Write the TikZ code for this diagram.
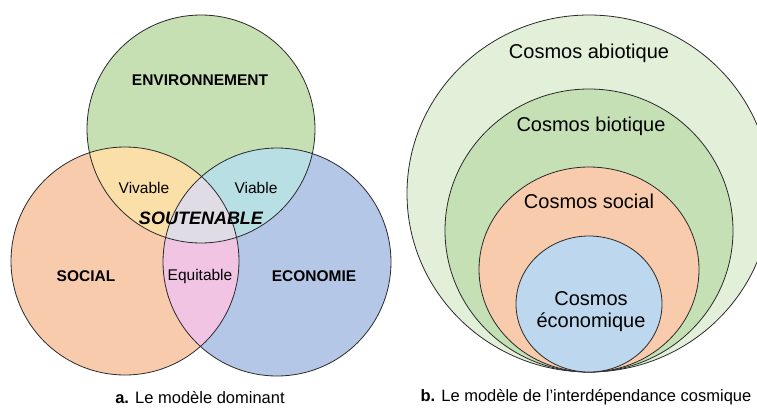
\documentclass[tikz,border=0pt]{standalone}
\usepackage{fontspec}
\setmainfont{Liberation Sans}
\definecolor{envg}{HTML}{C6E0B4}
\definecolor{socor}{HTML}{F8CBAD}
\definecolor{ecob}{HTML}{B4C7E7}
\definecolor{vivy}{HTML}{FADFA8}
\definecolor{viac}{HTML}{B7DFE4}
\definecolor{equp}{HTML}{F2C4E4}
\definecolor{soul}{HTML}{E0DCE6}
\definecolor{abio}{HTML}{E2F0D9}
\definecolor{bio}{HTML}{C5E0B4}
\definecolor{csoc}{HTML}{F8CBAD}
\definecolor{ceco}{HTML}{BDD7EE}
\definecolor{edge}{HTML}{2A2A2A}
\begin{document}
\begin{tikzpicture}[x=1pt,y=-1pt,
  outline/.style={draw=edge,line width=0.8pt},
  lab/.style={inner sep=0pt,text=black,font=\fontsize{15.5}{18}\selectfont},
  blab/.style={inner sep=0pt,text=black,font=\fontsize{15.5}{18}\selectfont\bfseries},
  clab/.style={inner sep=0pt,text=black,font=\fontsize{20}{24}\selectfont,align=center},
  captxt/.style={inner sep=0pt,text=black,font=\fontsize{16.5}{20}\selectfont}]
\useasboundingbox (0,0) rectangle (757,410);
\def\R{114pt}
\coordinate (cE) at (201,129);
\coordinate (cS) at (125,261);
\coordinate (cC) at (277,262);
% base fills
\fill[envg] (cE) circle (\R);
\fill[socor] (cS) circle (\R);
\fill[ecob] (cC) circle (\R);
% pairwise intersections
\begin{scope}
  \clip (cE) circle (\R);
  \fill[vivy] (cS) circle (\R);
\end{scope}
\begin{scope}
  \clip (cE) circle (\R);
  \fill[viac] (cC) circle (\R);
\end{scope}
\begin{scope}
  \clip (cS) circle (\R);
  \fill[equp] (cC) circle (\R);
\end{scope}
\begin{scope}
  \clip (cE) circle (\R);
  \clip (cS) circle (\R);
  \fill[soul] (cC) circle (\R);
\end{scope}
\draw[outline] (cE) circle (\R);
\draw[outline] (cS) circle (\R);
\draw[outline] (cC) circle (\R);
% Venn labels
\node[blab] (env) at (200,80) {ENVIRONNEMENT};
\node[blab] (soc) at (86,276) {SOCIAL};
\node[blab] (eco) at (314,276) {ECONOMIE};
\node[lab] (viv) at (144,188) {Vivable};
\node[lab] (via) at (256,188) {Viable};
\node[lab] (equ) at (200,276) {Equitable};
\node[inner sep=0pt,font=\fontsize{18}{21}\selectfont\bfseries\itshape] (sou) at (201,218) {SOUTENABLE};
% nested cosmos
\coordinate (kA) at (589,193.5);
\coordinate (kB) at (589,230.5);
\coordinate (kS) at (589,269.5);
\coordinate (kE) at (589,304);
\fill[abio] (kA) ellipse [x radius=182pt, y radius=178.5pt];
\draw[outline] (kA) ellipse [x radius=182pt, y radius=178.5pt];
\fill[bio] (kB) ellipse [x radius=144pt, y radius=141.5pt];
\draw[outline] (kB) ellipse [x radius=144pt, y radius=141.5pt];
\fill[csoc] (kS) ellipse [x radius=110pt, y radius=102.5pt];
\draw[outline] (kS) ellipse [x radius=110pt, y radius=102.5pt];
\fill[ceco] (kE) ellipse [x radius=73pt, y radius=68pt];
\draw[outline] (kE) ellipse [x radius=73pt, y radius=68pt];
\node[clab] (tabio) at (589,53) {Cosmos abiotique};
\node[clab] (tbio) at (591,126) {Cosmos biotique};
\node[clab] (tsoc) at (589,201) {Cosmos social};
\node[clab] (teco1) at (591,299) {Cosmos};
\node[clab] (teco2) at (591,322.5) {économique};
% captions
\node[captxt] (capa) at (200,397) {\textbf{a.} Le modèle dominant};
\node[captxt] (capb) at (586,397) {\textbf{b.} Le modèle de l’interdépendance cosmique};
\end{tikzpicture}
\end{document}
